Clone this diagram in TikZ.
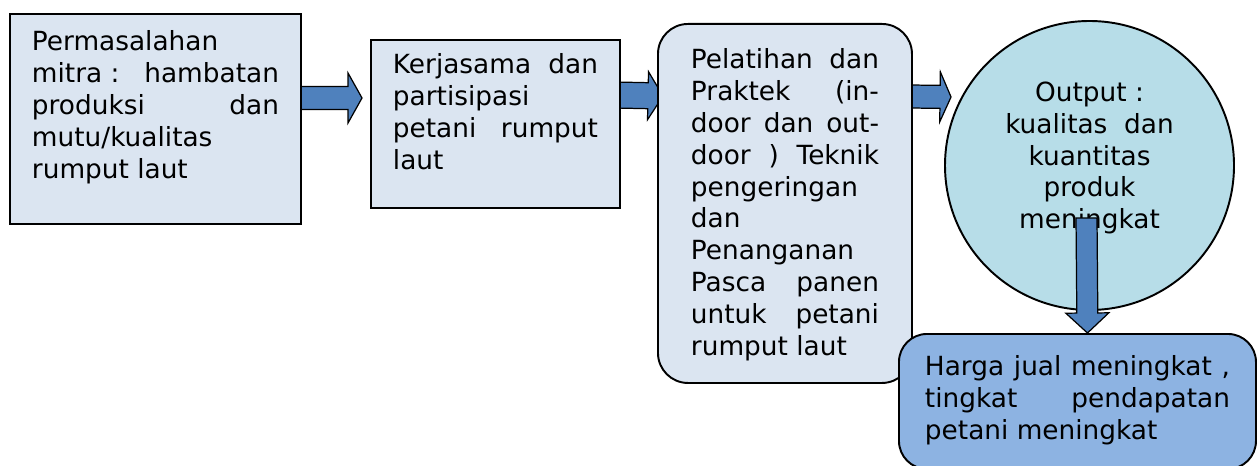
\documentclass[tikz,border=0pt]{standalone}
\usepackage{fontspec}
\setmainfont{DejaVu Sans}
\usetikzlibrary{calc}
\pgfdeclarelayer{back}
\pgfsetlayers{back,main}

\newdimen\px
\px=0.02cm

\definecolor{boxfill}{HTML}{DBE5F1}
\definecolor{outfill}{HTML}{B7DDE8}
\definecolor{hargafill}{HTML}{8DB3E2}
\definecolor{arrowfill}{HTML}{4F81BD}

\newcommand{\blockarrow}[5]{%
        \coordinate (hb) at ($(#2)!#5!(#1)$);
        \draw[barrow] ($(#1)!#3!90:(#2)$) -- ($(hb)!#3!90:(#2)$)
                -- ($(hb)!#4!90:(#2)$) -- (#2)
                -- ($(hb)!#4!-90:(#2)$) -- ($(hb)!#3!-90:(#2)$)
                -- ($(#1)!#3!-90:(#2)$) -- cycle;
}

\begin{document}
\begin{tikzpicture}[x=0.02cm, y=-0.02cm,
        box/.style={draw, line width=1.1pt, fill=boxfill, anchor=north west,
                inner xsep=22\px, font=\fontsize{15}{18.1}\selectfont},
        barrow/.style={draw, line width=0.7pt, fill=arrowfill}]
        \useasboundingbox (0,0) rectangle (1257,466);

        \node[box, inner ysep=17\px] (perm) at (9,13) {\parbox[c][176\px][t]{247\px}{%
                Permasalahan\\
                mitra~:\hfill hambatan\\
                produksi\hfill dan\\
                mutu/kualitas\\
                rumput laut}};

        \node[box, inner ysep=14\px] (kerja) at (370,39) {\parbox[c][140\px][t]{205\px}{%
                Kerjasama\hfill dan\\
                partisipasi\\
                petani\hfill rumput\\
                laut}};

        \node[box, rounded corners=30\px, inner xsep=33\px, inner ysep=25\px] (latih) at (657,23)
                {\parbox[c][309\px][t]{188\px}{%
                Pelatihan\hfill dan\\
                Praktek\hfill (in-\\
                door\hfill dan\hfill out-\\
                door\hfill )\hfill Teknik\\
                pengeringan\\
                dan\\
                Penanganan\\
                Pasca\hfill panen\\
                untuk\hfill petani\\
                rumput laut}};

        \node[circle, draw, line width=1.1pt, fill=outfill, minimum size=289\px, inner sep=0pt,
                font=\fontsize{15}{18.1}\selectfont] (hasil) at (1089.5,165.5)
                {\raisebox{0pt}[\height][\dimexpr\depth+15\px\relax]{\parbox{220\px}{\centering
                Output :\\ kualitas\ \ dan\\ kuantitas\\ produk\\ meningkat}}};

        \begin{pgfonlayer}{back}
        \coordinate (a1) at ($(perm.north east)+(-3,85)$);
        \coordinate (b1) at ($(kerja.north west)+(-8,59)$);
        \blockarrow{a1}{b1}{0.23cm}{0.5cm}{0.28cm}
        \coordinate (a2) at ($(kerja.north east)+(-6,56)$);
        \coordinate (b2) at ($(latih.north west)+(6,73)$);
        \blockarrow{a2}{b2}{0.26cm}{0.48cm}{0.3cm}
        \coordinate (a3) at ($(latih.north east)+(-3,73.5)$);
        \coordinate (b3) at ($(hasil.west)+(7,-68.5)$);
        \blockarrow{a3}{b3}{0.23cm}{0.5cm}{0.22cm}
        \end{pgfonlayer}

        \node[box, fill=hargafill, rounded corners=28\px, inner xsep=26\px, inner ysep=22\px] (harga) at (898,333)
                {\parbox[c][91\px][t]{305\px}{%
                Harga\hfill jual\hfill meningkat\hfill ,\\
                tingkat\hfill pendapatan\\
                petani meningkat}};

        \coordinate (a4) at ($(hasil.center)+(-3,52.5)$);
        \coordinate (b4) at ($(harga.north)+(10,0)$);
        \blockarrow{a4}{b4}{0.21cm}{0.43cm}{0.4cm}
\end{tikzpicture}
\end{document}
